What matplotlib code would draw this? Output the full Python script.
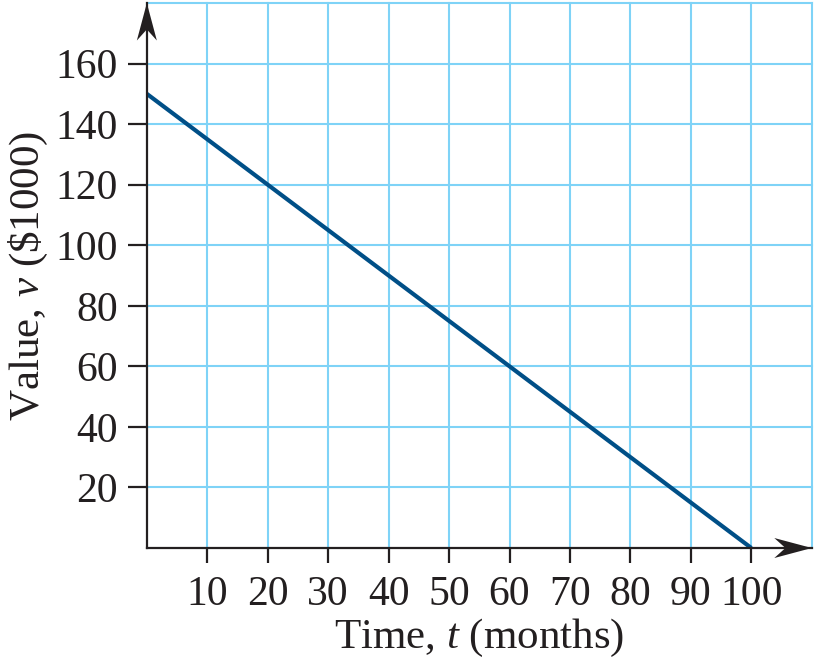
import matplotlib
matplotlib.use("Agg")
import matplotlib.pyplot as plt
from matplotlib.path import Path
from matplotlib.patches import PathPatch
from matplotlib.transforms import Affine2D

t_vals = [0, 100]
v_vals = [150, 0]
x_ticks = [10, 20, 30, 40, 50, 60, 70, 80, 90, 100]
y_ticks = [20, 40, 60, 80, 100, 120, 140, 160]
x_grid = [10, 20, 30, 40, 50, 60, 70, 80, 90, 100, 110]
y_grid = [20, 40, 60, 80, 100, 120, 140, 160, 180]

plt.rcParams['font.family'] = ['Liberation Serif', 'DejaVu Serif']
plt.rcParams['mathtext.fontset'] = 'custom'
plt.rcParams['mathtext.rm'] = 'Liberation Serif'
plt.rcParams['mathtext.it'] = 'Liberation Serif:italic'

fig = plt.figure(figsize=(8.25, 6.72), dpi=100)
ax = fig.add_axes([0.178, 0.1845, 0.806, 0.811])
ax.set_xlim(0, 110)
ax.set_ylim(0, 180)

grid_c = '#7fd3f7'
for gx in x_grid:
    ax.axvline(gx, color=grid_c, lw=1.5, zorder=1, clip_on=False)
for gy in y_grid:
    ax.axhline(gy, color=grid_c, lw=1.5, zorder=1, clip_on=False)

ax.plot(t_vals, v_vals, color='#004f87', lw=3, zorder=3, solid_capstyle='butt')

for s in ['top', 'right']:
    ax.spines[s].set_visible(False)
for s in ['left', 'bottom']:
    ax.spines[s].set_linewidth(1.6)
    ax.spines[s].set_color('#231f20')
    ax.spines[s].set_zorder(4)

ax.set_xticks(x_ticks)
ax.set_yticks(y_ticks)
ax.tick_params(axis='x', length=11, width=1.6, color='#231f20', labelsize=30, pad=9, labelcolor='#231f20')
ax.tick_params(axis='y', length=14, width=1.6, color='#231f20', labelsize=30, pad=7, labelcolor='#231f20')

# concave arrowheads (shape in points, pointing +x, tip at origin)
L, W, C = 27.0, 7.2, 19.0
head = Path([(0, 0), (-L, W), (-C, 0), (-L, -W), (0, 0)],
            [Path.MOVETO, Path.LINETO, Path.LINETO, Path.LINETO, Path.CLOSEPOLY])

fig.canvas.draw()
for (x, y, ang) in [(110, 0, 0), (0, 180, 90)]:
    patch = PathPatch(head, facecolor='#231f20', edgecolor='none', zorder=5, clip_on=False)
    px, py = ax.transData.transform((x, y))
    patch.set_transform(Affine2D().rotate_deg(ang).scale(fig.dpi / 72.0).translate(px, py))
    fig.add_artist(patch)

ax.set_xlabel(r'Time, $t$ (months)', fontsize=31, color='#231f20', labelpad=2)
ax.set_ylabel(r'Value, $v$ (\$1000)', fontsize=31, color='#231f20', labelpad=4)

fig.savefig('out.png', dpi=100)
